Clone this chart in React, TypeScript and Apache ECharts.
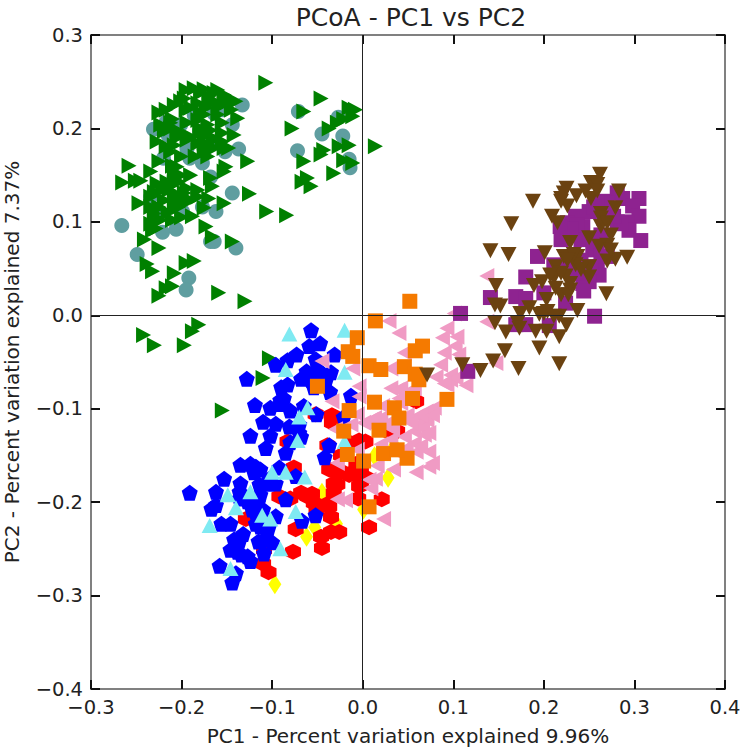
import React, { useEffect, useRef } from "react";
import * as echarts from "echarts";

const teal = [[-0.133,0.225],[-0.155,0.220],[-0.164,0.216],[-0.186,0.214],[-0.217,0.207],[-0.231,0.199],[-0.201,0.204],[-0.144,0.204],[-0.215,0.193],[-0.180,0.197],[-0.166,0.185],[-0.194,0.178],[-0.137,0.178],[-0.152,0.175],[-0.220,0.168],[-0.191,0.168],[-0.177,0.163],[-0.168,0.148],[-0.144,0.131],[-0.234,0.127],[-0.225,0.111],[-0.177,0.116],[-0.162,0.111],[-0.199,0.111],[-0.266,0.096],[-0.206,0.092],[-0.221,0.089],[-0.168,0.079],[-0.164,0.079],[-0.140,0.072],[-0.249,0.065],[-0.192,0.040],[-0.195,0.027],[-0.071,0.218],[-0.027,0.212],[-0.045,0.194],[-0.022,0.192],[-0.072,0.176],[-0.015,0.167],[-0.014,0.158]];

const green = [[-0.107,0.249],[-0.046,0.232],[-0.065,0.218],[-0.078,0.200],[-0.037,0.200],[-0.015,0.222],[-0.008,0.220],[-0.011,0.213],[-0.026,0.181],[-0.015,0.182],[-0.043,0.177],[-0.046,0.172],[-0.065,0.165],[-0.021,0.166],[-0.011,0.163],[-0.032,0.152],[-0.067,0.143],[-0.061,0.147],[-0.057,0.138],[-0.028,0.206],[-0.021,0.210],[0.014,0.181],[-0.195,0.241],[-0.186,0.243],[-0.175,0.242],[-0.160,0.241],[-0.153,0.236],[-0.146,0.231],[-0.140,0.229],[-0.170,0.234],[-0.164,0.229],[-0.197,0.232],[-0.208,0.225],[-0.217,0.220],[-0.225,0.217],[-0.182,0.227],[-0.173,0.222],[-0.159,0.223],[-0.138,0.211],[-0.155,0.206],[-0.142,0.193],[-0.223,0.204],[-0.212,0.200],[-0.171,0.204],[-0.168,0.198],[-0.182,0.209],[-0.194,0.206],[-0.227,0.186],[-0.217,0.181],[-0.205,0.190],[-0.190,0.191],[-0.182,0.184],[-0.155,0.186],[-0.148,0.179],[-0.164,0.179],[-0.175,0.175],[-0.171,0.170],[-0.212,0.175],[-0.127,0.165],[-0.151,0.159],[-0.153,0.154],[-0.225,0.165],[-0.234,0.154],[-0.258,0.160],[-0.265,0.142],[-0.251,0.144],[-0.245,0.144],[-0.205,0.159],[-0.201,0.150],[-0.208,0.141],[-0.227,0.141],[-0.230,0.132],[-0.234,0.127],[-0.247,0.120],[-0.219,0.123],[-0.205,0.127],[-0.194,0.136],[-0.182,0.134],[-0.190,0.123],[-0.206,0.123],[-0.203,0.116],[-0.168,0.147],[-0.166,0.138],[-0.153,0.120],[-0.125,0.130],[-0.106,0.111],[-0.084,0.107],[-0.188,0.106],[-0.230,0.109],[-0.234,0.098],[-0.228,0.093],[-0.210,0.102],[-0.173,0.095],[-0.166,0.084],[-0.241,0.081],[-0.225,0.072],[-0.144,0.079],[-0.238,0.055],[-0.232,0.047],[-0.195,0.056],[-0.186,0.058],[-0.208,0.045],[-0.217,0.029],[-0.210,0.031],[-0.225,0.021],[-0.159,0.024],[-0.130,0.015],[-0.242,-0.021],[-0.230,-0.032],[-0.197,-0.032],[-0.188,-0.017],[-0.181,-0.010],[-0.103,-0.046],[-0.110,-0.067],[-0.155,-0.102],[-0.160,0.215],[-0.180,0.195],[-0.200,0.170],[-0.185,0.170],[-0.190,0.150],[-0.210,0.160],[-0.220,0.135],[-0.225,0.115],[-0.230,0.100],[-0.215,0.110],[-0.200,0.105],[-0.170,0.125],[-0.175,0.115],[-0.195,0.125],[-0.155,0.195],[-0.145,0.220],[-0.150,0.228],[-0.175,0.215],[-0.195,0.220],[-0.210,0.210],[-0.165,0.190],[-0.175,0.185],[-0.200,0.195],[-0.179,0.238],[-0.164,0.238],[-0.153,0.231],[-0.168,0.227],[-0.190,0.222],[-0.179,0.216],[-0.201,0.229],[-0.212,0.206],[-0.219,0.197],[-0.205,0.198],[-0.179,0.200],[-0.173,0.193],[-0.194,0.188],[-0.208,0.182],[-0.164,0.188],[-0.173,0.181],[-0.153,0.179],[-0.208,0.150],[-0.216,0.143],[-0.221,0.136],[-0.214,0.134],[-0.203,0.143],[-0.197,0.131],[-0.208,0.131],[-0.182,0.127],[-0.225,0.116],[-0.234,0.116],[-0.223,0.102],[-0.232,0.091],[-0.208,0.115],[-0.201,0.120]];

const yellow = [[-0.045,-0.190],[0.013,-0.151],[0.035,-0.140],[0.028,-0.174],[0.001,-0.208],[-0.053,-0.227],[-0.062,-0.237],[-0.029,-0.223],[-0.097,-0.288]];

const red = [[0.059,-0.092],[-0.034,-0.107],[-0.052,-0.106],[-0.083,-0.135],[-0.039,-0.139],[-0.013,-0.137],[-0.004,-0.134],[0.003,-0.135],[-0.024,-0.150],[-0.007,-0.159],[-0.076,-0.163],[-0.037,-0.165],[-0.024,-0.167],[-0.015,-0.171],[-0.002,-0.176],[0.004,-0.174],[-0.028,-0.181],[-0.032,-0.190],[-0.092,-0.194],[-0.080,-0.196],[-0.068,-0.190],[-0.056,-0.191],[-0.054,-0.201],[-0.039,-0.202],[-0.005,-0.196],[0.021,-0.197],[-0.051,-0.209],[-0.129,-0.218],[-0.035,-0.216],[-0.074,-0.229],[0.007,-0.227],[-0.026,-0.232],[-0.035,-0.232],[-0.046,-0.237],[-0.045,-0.249],[-0.077,-0.253],[-0.109,-0.251],[-0.110,-0.266],[-0.104,-0.275],[0.031,-0.126],[0.038,-0.124],[-0.034,-0.115],[-0.004,-0.183],[-0.002,-0.165],[-0.032,-0.180],[-0.037,-0.205],[-0.028,-0.169],[-0.013,-0.169],[-0.004,-0.173],[-0.002,-0.181],[-0.061,-0.194],[-0.033,-0.108]];

const blue = [[-0.057,-0.016],[-0.047,-0.030],[-0.059,-0.033],[-0.073,-0.042],[-0.083,-0.048],[-0.096,-0.053],[-0.031,-0.042],[-0.052,-0.047],[-0.062,-0.060],[-0.050,-0.058],[-0.035,-0.061],[-0.068,-0.068],[-0.128,-0.068],[-0.041,-0.071],[-0.083,-0.074],[-0.090,-0.077],[-0.054,-0.077],[-0.036,-0.082],[-0.013,-0.086],[-0.087,-0.089],[-0.119,-0.096],[-0.091,-0.095],[-0.102,-0.099],[-0.080,-0.102],[-0.065,-0.097],[-0.051,-0.106],[-0.021,-0.109],[-0.110,-0.114],[-0.096,-0.116],[-0.081,-0.119],[-0.070,-0.126],[-0.124,-0.129],[-0.102,-0.129],[-0.080,-0.136],[-0.107,-0.142],[-0.085,-0.147],[-0.037,-0.139],[-0.042,-0.152],[-0.135,-0.160],[-0.124,-0.159],[-0.113,-0.165],[-0.120,-0.168],[-0.092,-0.163],[-0.074,-0.172],[-0.153,-0.175],[-0.135,-0.180],[-0.114,-0.181],[-0.096,-0.180],[-0.103,-0.180],[-0.191,-0.190],[-0.162,-0.189],[-0.136,-0.189],[-0.162,-0.203],[-0.167,-0.207],[-0.116,-0.201],[-0.127,-0.199],[-0.085,-0.197],[-0.118,-0.212],[-0.096,-0.215],[-0.067,-0.220],[-0.052,-0.214],[-0.156,-0.223],[-0.146,-0.223],[-0.118,-0.223],[-0.104,-0.228],[-0.132,-0.234],[-0.115,-0.242],[-0.100,-0.243],[-0.109,-0.240],[-0.136,-0.241],[-0.146,-0.251],[-0.134,-0.256],[-0.124,-0.263],[-0.109,-0.255],[-0.158,-0.268],[-0.140,-0.276],[-0.144,-0.286],[-0.045,-0.062],[-0.057,-0.069],[-0.122,-0.208],[-0.113,-0.192],[-0.125,-0.194],[-0.136,-0.196],[-0.110,-0.208],[-0.113,-0.226],[-0.127,-0.258],[-0.138,-0.253],[-0.142,-0.240],[-0.118,-0.162],[-0.107,-0.180],[-0.103,-0.175],[-0.070,-0.117],[-0.068,-0.130],[-0.091,-0.091]];

const cyan = [[-0.081,-0.020],[-0.020,-0.016],[-0.085,-0.058],[-0.020,-0.061],[-0.061,-0.099],[-0.070,-0.109],[-0.072,-0.134],[-0.020,-0.135],[-0.100,-0.168],[-0.085,-0.168],[-0.064,-0.173],[-0.149,-0.192],[-0.124,-0.189],[-0.140,-0.206],[-0.169,-0.225],[-0.102,-0.218],[-0.074,-0.210],[-0.091,-0.250],[-0.146,-0.271],[-0.111,-0.214]];

const pink = [[0.137,0.042],[0.137,-0.007],[0.101,0.002],[0.029,-0.006],[0.040,-0.019],[0.093,-0.014],[0.088,-0.024],[0.104,-0.023],[0.102,-0.033],[0.090,-0.040],[0.046,-0.040],[0.106,-0.042],[0.086,-0.053],[0.097,-0.069],[0.114,-0.075],[0.093,-0.074],[0.081,-0.066],[0.147,-0.051],[0.031,-0.057],[-0.011,-0.057],[-0.045,-0.049],[-0.004,-0.076],[0.031,-0.078],[0.042,-0.078],[0.057,-0.078],[0.040,-0.089],[-0.004,-0.087],[-0.034,-0.092],[0.022,-0.097],[0.079,-0.099],[0.070,-0.103],[0.049,-0.107],[0.060,-0.108],[0.071,-0.112],[0.062,-0.117],[0.009,-0.112],[0.020,-0.110],[-0.006,-0.106],[-0.013,-0.117],[-0.030,-0.122],[0.033,-0.122],[0.046,-0.130],[0.073,-0.126],[0.066,-0.121],[0.020,-0.138],[0.057,-0.137],[0.048,-0.142],[0.073,-0.146],[0.040,-0.148],[0.059,-0.146],[-0.006,-0.144],[-0.028,-0.158],[0.077,-0.158],[0.016,-0.161],[0.034,-0.165],[0.059,-0.168],[0.073,-0.162],[0.009,-0.185],[0.014,-0.175],[0.023,-0.218],[-0.019,-0.198],[-0.028,-0.197],[0.038,-0.080],[0.049,-0.083],[0.042,-0.094],[0.064,-0.107],[0.077,-0.107],[0.013,-0.110],[0.001,-0.115],[0.024,-0.117],[0.057,-0.124],[0.068,-0.128],[0.031,-0.133],[0.053,-0.115],[0.047,-0.110],[0.012,-0.119],[0.097,-0.064],[0.103,-0.067],[0.090,-0.073],[0.046,-0.151],[0.064,-0.140],[0.007,-0.176]];

const orange = [[0.052,0.015],[0.014,-0.006],[-0.006,-0.024],[-0.016,-0.039],[-0.011,-0.044],[0.007,-0.054],[0.020,-0.058],[0.058,-0.038],[0.066,-0.033],[0.046,-0.055],[0.058,-0.063],[0.062,-0.069],[0.013,-0.093],[-0.015,-0.102],[0.093,-0.090],[0.035,-0.099],[0.040,-0.110],[0.055,-0.089],[0.018,-0.123],[0.023,-0.148],[0.049,-0.153],[-0.017,-0.149],[-0.021,-0.124],[0.038,-0.144],[0.007,-0.205],[0.001,-0.156],[-0.050,-0.076]];

const purple = [[0.281,0.131],[0.305,0.125],[0.287,0.125],[0.298,0.117],[0.305,0.106],[0.266,0.122],[0.250,0.111],[0.235,0.106],[0.266,0.104],[0.226,0.099],[0.281,0.100],[0.292,0.100],[0.243,0.095],[0.226,0.090],[0.294,0.091],[0.219,0.081],[0.241,0.081],[0.263,0.081],[0.307,0.080],[0.254,0.070],[0.270,0.063],[0.193,0.063],[0.211,0.054],[0.226,0.052],[0.259,0.052],[0.261,0.043],[0.180,0.041],[0.250,0.036],[0.243,0.034],[0.244,0.026],[0.200,0.024],[0.169,0.020],[0.180,0.018],[0.141,0.019],[0.224,0.013],[0.108,0.002],[0.256,-0.001],[0.169,-0.010],[0.180,-0.010],[0.206,-0.011],[0.116,-0.060],[0.237,0.097],[0.230,0.092],[0.270,0.120],[0.259,0.120],[0.285,0.098],[0.277,0.106],[0.259,0.077],[0.263,0.063],[0.233,0.045],[0.244,0.045],[0.241,0.059],[0.230,0.059],[0.252,0.052],[0.218,0.095],[0.255,0.116],[0.263,0.086]];

const brown = [[0.262,0.151],[0.225,0.136],[0.252,0.142],[0.259,0.140],[0.283,0.133],[0.246,0.133],[0.236,0.128],[0.222,0.131],[0.188,0.122],[0.219,0.122],[0.226,0.117],[0.252,0.125],[0.279,0.115],[0.209,0.106],[0.215,0.099],[0.263,0.109],[0.164,0.098],[0.263,0.095],[0.274,0.086],[0.229,0.078],[0.250,0.083],[0.270,0.075],[0.261,0.074],[0.141,0.069],[0.161,0.065],[0.201,0.067],[0.222,0.063],[0.237,0.063],[0.279,0.060],[0.292,0.062],[0.270,0.058],[0.213,0.052],[0.250,0.052],[0.235,0.054],[0.211,0.040],[0.224,0.042],[0.250,0.041],[0.198,0.036],[0.189,0.032],[0.147,0.032],[0.229,0.027],[0.213,0.029],[0.219,0.022],[0.227,0.022],[0.269,0.023],[0.203,0.017],[0.146,0.011],[0.152,0.010],[0.184,0.008],[0.174,0.002],[0.204,0.004],[0.237,0.005],[0.195,0.001],[0.217,-0.001],[0.146,-0.008],[0.171,-0.008],[0.225,-0.010],[0.158,-0.018],[0.191,-0.017],[0.203,-0.017],[0.217,-0.023],[0.173,-0.014],[0.157,-0.038],[0.195,-0.035],[0.217,-0.052],[0.172,-0.057],[0.110,-0.053],[0.130,-0.059],[0.144,-0.049],[0.071,-0.064],[0.219,0.045],[0.229,0.034],[0.207,0.043],[0.263,0.104],[0.270,0.099],[0.219,0.125],[0.259,0.133],[0.274,0.070],[0.233,0.065],[0.226,0.059],[0.200,0.002],[0.211,-0.001],[0.241,0.049]];

const TITLE = "PCoA - PC1 vs PC2";
const X_NAME = "PC1 - Percent variation explained 9.96%";
const Y_NAME = "PC2 - Percent variation explained 7.37%";
const FONT = "DejaVu Sans";

const PENTAGON = "path://M50 0L100 36L81 95L19 95L0 36Z";
const HEXAGON = "path://M50 0L93 25L93 75L50 100L7 75L7 25Z";
const TRI: [number, number] = [16, 15];
const TEXT = "#222";

const fmt = (v: number) => {
  const s = Math.abs(v).toFixed(1);
  return v < -1e-9 ? "\u2212" + s : s;
};

const scatter = (data: number[][], color: string, symbol: string, size: any, rotate = 0) => ({
  type: "scatter",
  data,
  symbol,
  symbolSize: size,
  symbolRotate: rotate,
  itemStyle: { color, opacity: 1 },
  silent: true,
});

const tick = { show: true, inside: true, length: 9, lineStyle: { color: "#111", width: 2 } };
const xBase = { type: "value", min: -0.3, max: 0.4, interval: 0.1, splitLine: { show: false }, axisTick: tick };
const yBase = { type: "value", min: -0.4, max: 0.3, interval: 0.1, splitLine: { show: false }, axisTick: tick };

export default function App() {
  const ref = useRef<HTMLDivElement>(null);
  useEffect(() => {
    document.body.style.margin = "0";
    const chart = echarts.init(ref.current!, null, { renderer: "svg" });
    chart.setOption({
      animation: false,
      backgroundColor: "#fff",
      title: {
        text: TITLE,
        left: 406,
        top: 0,
        textAlign: "center",
        textStyle: { fontFamily: FONT, fontSize: 25, fontWeight: "normal", color: TEXT },
      },
      grid: { left: 91, top: 35, width: 634, height: 654, outerBoundsMode: "none", show: true, borderColor: "#808080", borderWidth: 2, backgroundColor: "transparent" },
      xAxis: [
        {
          ...xBase,
          position: "bottom",
          name: X_NAME,
          nameLocation: "middle",
          nameGap: 37,
          nameTextStyle: { fontFamily: FONT, fontSize: 20, color: TEXT },
          axisLine: { show: false, onZero: false },
          axisLabel: { fontFamily: FONT, fontSize: 19.5, color: TEXT, margin: 8, formatter: fmt, showMinLabel: true, showMaxLabel: true },
        },
        { ...xBase, position: "top", axisLine: { show: false, onZero: false }, axisLabel: { show: false } },
      ],
      yAxis: [
        {
          ...yBase,
          position: "left",
          name: Y_NAME,
          nameLocation: "middle",
          nameGap: 69,
          nameTextStyle: { fontFamily: FONT, fontSize: 20, color: TEXT },
          axisLine: { show: false, onZero: false },
          axisLabel: { fontFamily: FONT, fontSize: 19.5, color: TEXT, margin: 8, formatter: fmt, showMinLabel: true, showMaxLabel: true },
        },
        { ...yBase, position: "right", axisLine: { show: false, onZero: false }, axisLabel: { show: false } },
      ],
      series: [
        scatter(teal, "#5F9EA0", "circle", 15),
        scatter(green, "#008000", "triangle", TRI, -90),
        scatter(yellow, "#FFFF00", "diamond", [13, 20]),
        scatter(red, "#FF0000", HEXAGON, 16),
        scatter(blue, "#0000FF", PENTAGON, 16),
        scatter(cyan, "#7FEAF2", "triangle", TRI),
        scatter(pink, "#F09BC4", "triangle", TRI, 90),
        scatter(orange, "#F57A00", "rect", 15),
        scatter(purple, "#8E2390", "rect", 15),
        scatter(brown, "#6B4210", "triangle", TRI, 180),
        {
          type: "scatter",
          data: [],
          silent: true,
          z: 10,
          markLine: {
            silent: true,
            symbol: "none",
            label: { show: false },
            lineStyle: { color: "#222", width: 1, type: "solid" },
            data: [{ xAxis: 0 }, { yAxis: 0 }],
          },
        },
      ],
    });
    return () => chart.dispose();
  }, []);
  return <div ref={ref} style={{ width: 744, height: 750 }} />;
}
